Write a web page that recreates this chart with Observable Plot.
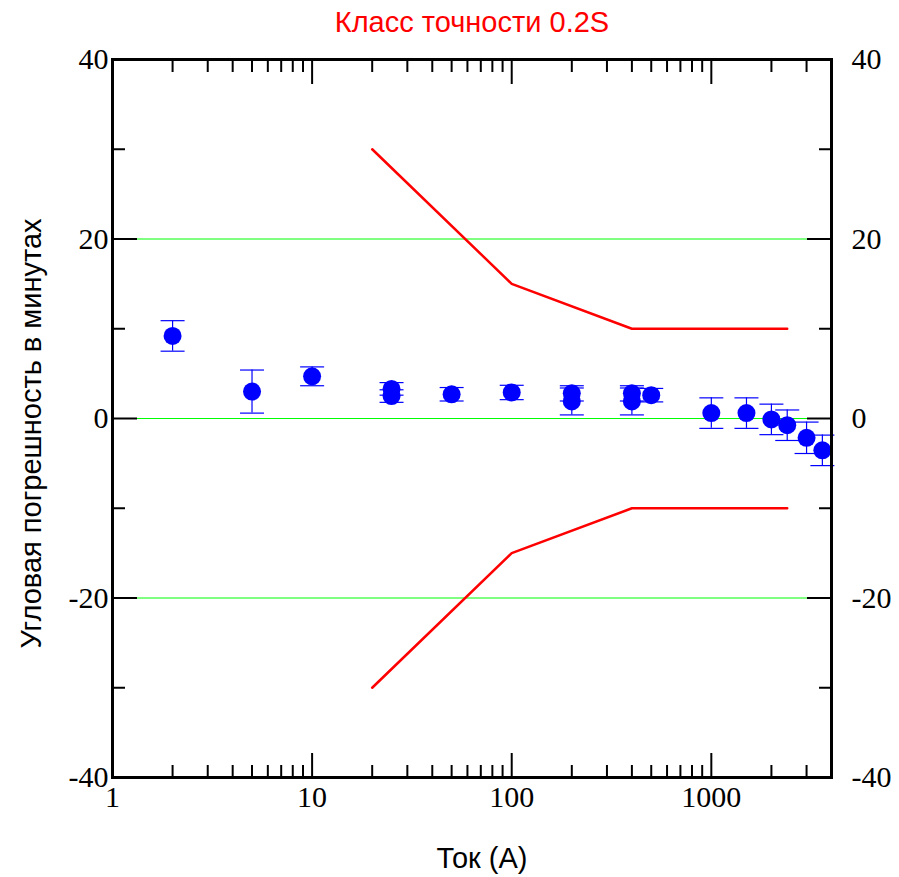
<!DOCTYPE html>
<html><head><meta charset="utf-8">
<script src="https://cdn.jsdelivr.net/npm/d3@7"></script>
<script src="https://cdn.jsdelivr.net/npm/@observablehq/plot@0.6"></script>
<style>body{margin:0;background:#fff}</style>
</head><body><div id="chart"></div>
<script>
// ---- data ----
const titleText = "Класс точности 0.2S";
const xTitle = "Ток (A)";
const yTitle = "Угловая погрешность в минутах";
const current = [2, 5, 10, 25, 25, 50, 100, 200, 200, 400, 400, 500, 1000, 1500, 2000, 2400, 3000, 3600];
const angleError = [9.2, 3.0, 4.7, 3.3, 2.5, 2.7, 2.9, 2.8, 1.9, 2.8, 1.9, 2.6, 0.6, 0.6, -0.1, -0.75, -2.15, -3.55];
const errHalf = [1.7, 2.4, 1.05, 0.7, 0.7, 0.75, 0.8, 0.85, 1.5, 0.85, 1.5, 0.75, 1.7, 1.7, 1.7, 1.7, 1.75, 1.7];
const limitX = [20, 100, 400, 2400];
const limitUpper = [30, 15, 10, 10];
const limitLower = [-30, -15, -10, -10];
const gridY = [-20, 0, 20];
const yMajor = [-40, -20, 0, 20, 40];
const yMinor = [-30, -10, 10, 30];
const xMajor = [1, 10, 100, 1000];
const xMinor = [2, 3, 4, 5, 6, 7, 8, 9, 20, 30, 40, 50, 60, 70, 80, 90, 200, 300, 400, 500, 600, 700, 800, 900, 2000, 3000];

// ---- tables ----
const points = current.map((x, i) => ({x, y: angleError[i], lo: angleError[i] - errHalf[i], hi: angleError[i] + errHalf[i]}));
const upper = limitX.map((x, i) => ({x, y: limitUpper[i]}));
const lower = limitX.map((x, i) => ({x, y: limitLower[i]}));

const capSymbol = {draw(ctx) { ctx.moveTo(-12, 0); ctx.lineTo(12, 0); }};
const serif = "'Liberation Serif', 'Times New Roman', serif";
const sans = "'Liberation Sans', Arial, sans-serif";
const tickFont = 30;
const labelFont = 29;
const fmt = d => String(d);

const chart = Plot.plot({
  width: 899,
  height: 877,
  marginLeft: 112,
  marginRight: 68,
  marginTop: 59,
  marginBottom: 100,
  style: {fontFamily: serif, background: "#fff"},
  x: {type: "log", domain: [1, 4000]},
  y: {domain: [-40, 40]},
  marks: [
    Plot.ruleY(gridY, {stroke: "#00ff00", strokeWidth: 1}),
    Plot.line(upper, {x: "x", y: "y", stroke: "#ff0000", strokeWidth: 2.5}),
    Plot.line(lower, {x: "x", y: "y", stroke: "#ff0000", strokeWidth: 2.5}),
    Plot.ruleX(points, {x: "x", y1: "lo", y2: "hi", stroke: "#0000ff", strokeWidth: 1.2}),
    Plot.dot(points, {x: "x", y: "lo", symbol: capSymbol, stroke: "#0000ff", strokeWidth: 1.2, fill: "none"}),
    Plot.dot(points, {x: "x", y: "hi", symbol: capSymbol, stroke: "#0000ff", strokeWidth: 1.2, fill: "none"}),
    Plot.dot(points, {x: "x", y: "y", r: 9, fill: "#0000ff", stroke: "none"}),
    // axes with inward ticks
    Plot.axisY(yMajor, {anchor: "left", tickSize: -25, tickPadding: 29, tickFormat: fmt, strokeWidth: 2, fontSize: tickFont, fill: "black", label: null}),
    Plot.axisY(yMinor, {anchor: "left", tickSize: -13, tickFormat: () => "", strokeWidth: 2, label: null}),
    Plot.axisY(yMajor, {anchor: "right", tickSize: -25, tickPadding: 45, tickFormat: fmt, strokeWidth: 2, fontSize: tickFont, fill: "black", label: null}),
    Plot.axisY(yMinor, {anchor: "right", tickSize: -13, tickFormat: () => "", strokeWidth: 2, label: null}),
    Plot.axisX(xMajor, {anchor: "bottom", tickSize: -24, tickPadding: 32, tickFormat: fmt, strokeWidth: 2, fontSize: tickFont, fill: "black", label: null}),
    Plot.axisX(xMinor, {anchor: "bottom", tickSize: -12, tickFormat: () => "", strokeWidth: 2, label: null}),
    Plot.axisX(xMajor, {anchor: "top", tickSize: -24, tickFormat: () => "", strokeWidth: 2, label: null}),
    Plot.axisX(xMinor, {anchor: "top", tickSize: -12, tickFormat: () => "", strokeWidth: 2, label: null}),
    Plot.frame({stroke: "black", strokeWidth: 3}),
    // titles
    Plot.text([titleText], {frameAnchor: "top", dy: -37, fill: "#ff0000", fontFamily: sans, fontSize: labelFont, textAnchor: "middle", lineAnchor: "middle"}),
    Plot.text([xTitle], {frameAnchor: "bottom", dx: 10, dy: 81, fill: "black", fontFamily: sans, fontSize: labelFont, textAnchor: "middle", lineAnchor: "middle"}),
    Plot.text([yTitle], {frameAnchor: "left", dx: -81, dy: 15, rotate: -90, fill: "black", fontFamily: sans, fontSize: labelFont, textAnchor: "middle", lineAnchor: "middle"})
  ]
});
document.getElementById("chart").append(chart);
</script>
</body></html>
